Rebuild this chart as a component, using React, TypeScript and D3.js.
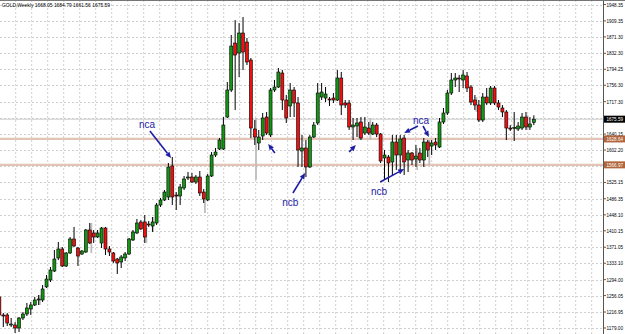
import React from 'react';
import * as d3 from 'd3';

const W = 625;
const H = 334;

const opens = [1252.8,1209.9,1209.9,1186.1,1186.1,1179.0,1202.8,1212.3,1224.2,1233.7,1245.6,1245.6,1276.6,1293.2,1314.5,1345.5,1366.9,1326.4,1357.4,1390.7,1369.3,1355.0,1359.7,1412.1,1405.0,1395.4,1381.2,1416.8,1366.9,1357.4,1343.1,1335.9,1345.5,1355.0,1388.3,1405.0,1431.1,1431.1,1426.3,1421.6,1428.7,1471.5,1483.4,1490.5,1564.3,1495.3,1492.9,1511.9,1535.7,1538.1,1526.2,1538.1,1502.4,1483.4,1540.5,1590.4,1604.7,1604.7,1680.7,1745.0,1856.7,1833.0,1880.5,1859.1,1816.3,1652.2,1619.0,1635.6,1680.7,1638.0,1745.0,1752.1,1785.4,1721.2,1707.0,1745.0,1714.1,1599.9,1607.1,1561.9,1633.2,1666.5,1728.3,1725.9,1723.6,1725.9,1721.2,1773.5,1714.1,1714.1,1657.0,1659.4,1668.9,1642.7,1654.6,1640.3,1661.7,1640.3,1583.3,1585.6,1573.8,1621.3,1590.4,1630.8,1578.5,1595.2,1580.9,1595.2,1578.5,1621.3,1611.8,1621.3,1609.4,1668.9,1690.3,1737.8,1768.8,1773.5,1768.8,1778.3,1752.1,1721.2,1709.3,1673.6,1728.3,1714.1,1749.7,1714.1,1702.2,1692.7,1654.6,1654.6,1652.2,1654.6,1680.7,1657.0,1668.05];
const highs = [1255.1,1214.7,1214.7,1202.8,1193.2,1205.1,1217.0,1238.5,1240.8,1252.8,1257.5,1281.3,1305.0,1324.1,1364.5,1383.5,1371.7,1359.7,1395.4,1419.2,1371.7,1364.5,1414.5,1428.7,1412.1,1412.1,1419.2,1419.2,1374.0,1359.7,1345.5,1352.6,1359.7,1393.1,1412.1,1438.2,1435.8,1447.7,1433.5,1443.0,1476.3,1488.2,1507.2,1571.4,1585.6,1502.4,1521.5,1540.5,1550.0,1547.6,1542.9,1552.4,1509.6,1545.2,1597.5,1607.1,1630.8,1680.7,1764.0,1875.8,1911.4,1904.3,1918.6,1868.6,1821.1,1673.6,1649.9,1690.3,1692.7,1749.7,1768.8,1797.3,1792.5,1733.1,1761.6,1752.1,1728.3,1638.0,1626.1,1638.0,1668.9,1761.6,1761.6,1752.1,1728.3,1737.8,1792.5,1787.8,1721.2,1721.2,1678.4,1678.4,1680.7,1680.7,1668.9,1668.9,1666.5,1642.7,1602.3,1590.4,1638.0,1638.0,1638.0,1638.0,1602.3,1597.5,1614.2,1607.1,1630.8,1626.1,1626.1,1630.8,1678.4,1702.2,1745.0,1785.4,1785.4,1780.7,1792.5,1787.8,1756.9,1733.1,1721.2,1737.8,1749.7,1754.5,1754.5,1721.2,1709.3,1697.4,1661.7,1692.7,1668.9,1690.3,1692.7,1680.7,1684.79];
const lows = [1202.8,1181.4,1183.7,1181.4,1167.2,1169.5,1198.0,1207.5,1209.9,1231.3,1233.7,1240.8,1274.2,1288.4,1312.1,1340.7,1324.1,1324.1,1355.0,1371.7,1326.4,1352.6,1357.4,1378.8,1381.2,1393.1,1369.3,1352.6,1350.2,1333.6,1307.4,1321.7,1338.3,1352.6,1385.9,1402.6,1412.1,1381.2,1419.2,1407.4,1424.0,1466.8,1481.0,1483.4,1471.5,1459.6,1471.5,1507.2,1531.0,1523.8,1521.5,1492.9,1476.3,1481.0,1538.1,1585.6,1602.3,1602.3,1678.4,1740.2,1697.4,1775.9,1792.5,1804.4,1630.8,1614.2,1602.3,1626.1,1638.0,1633.2,1740.2,1749.7,1697.4,1666.5,1680.7,1680.7,1561.9,1561.9,1538.1,1559.5,1630.8,1661.7,1721.2,1716.4,1707.0,1714.1,1718.8,1685.5,1702.2,1649.9,1626.1,1633.2,1626.1,1638.0,1638.0,1638.0,1633.2,1571.4,1531.0,1526.2,1542.9,1554.7,1554.7,1542.9,1550.0,1566.6,1561.9,1571.4,1561.9,1585.6,1590.4,1602.3,1607.1,1664.1,1685.5,1733.1,1752.1,1740.2,1749.7,1740.2,1709.3,1697.4,1668.9,1668.9,1709.3,1709.3,1709.3,1697.4,1680.7,1626.1,1647.5,1623.7,1647.5,1649.9,1649.9,1649.9,1661.56];
const closes = [1209.9,1207.5,1190.9,1188.5,1179.0,1202.8,1212.3,1226.6,1233.7,1245.6,1248.0,1271.8,1295.5,1316.9,1343.1,1366.9,1326.4,1357.4,1390.7,1374.0,1350.2,1362.1,1412.1,1381.2,1395.4,1405.0,1416.8,1366.9,1359.7,1338.3,1333.6,1347.9,1355.0,1390.7,1407.4,1428.7,1414.5,1395.4,1424.0,1431.1,1471.5,1483.4,1502.4,1561.9,1490.5,1492.9,1514.3,1533.4,1538.1,1526.2,1538.1,1500.1,1485.8,1540.5,1590.4,1597.5,1626.1,1661.7,1745.0,1849.6,1828.2,1880.5,1835.3,1811.6,1654.6,1633.2,1633.2,1678.4,1642.7,1745.0,1752.1,1787.8,1721.2,1678.4,1745.0,1714.1,1602.3,1607.1,1561.9,1633.2,1661.7,1737.8,1740.2,1735.5,1721.2,1721.2,1773.5,1709.3,1709.3,1657.0,1661.7,1666.5,1630.8,1657.0,1642.7,1661.7,1640.3,1576.1,1590.4,1571.4,1621.3,1590.4,1628.5,1573.8,1595.2,1578.5,1588.0,1578.5,1621.3,1602.3,1619.0,1614.2,1668.9,1690.3,1737.8,1768.8,1773.5,1771.1,1780.7,1749.7,1716.4,1709.3,1673.6,1728.3,1714.1,1749.7,1714.1,1704.5,1692.7,1654.6,1652.2,1655.8,1659.4,1680.7,1657.0,1664.1,1675.59];

const priceTicks = [1948.35,1909.35,1871.30,1832.30,1794.25,1756.30,1717.30,1679.25,1640.15,1602.20,1564.15,1525.15,1486.35,1448.10,1410.15,1371.05,1333.10,1294.00,1256.05,1216.95,1179.00];
const levelPrices = [1628.64, 1566.97];
const lastPrice = 1675.59;
const titleText = 'GOLD,Weekly  1668.05 1684.79 1661.56 1675.59';

const ghostIdx = [10.3, 23.4, 37.4, 39, 52.3, 65.3, 91.5, 94.4, 106.3, 109.4, 121.4, 134.4];
const ghostHigh = [1257.5, 1428.7, 1416.8, 1443.0, 1483.4, 1678.4, 1668.9, 1678.4, 1607.1, 1626.1, 1728.3, 1685.5];
const ghostLow = [1233.7, 1357.4, 1381.2, 1407.4, 1452.5, 1531.0, 1626.1, 1626.1, 1554.7, 1566.6, 1692.7, 1649.9];

const noteText = ['nca', 'nca', 'ncb', 'ncb'];
const noteIdx = [37.6, 107.3, 74, 96.6];
const notePrice = [1664.1, 1673.6, 1476.3, 1504.8];

const arrowTailIdx = [38.3, 70.1, 74.7, 89, 96.9, 106.5, 107.8];
const arrowTailPrice = [1647.5, 1595.2, 1500.1, 1597.5, 1526.2, 1659.4, 1659.4];
const arrowTipIdx = [43.7, 68.4, 77.8, 90.7, 103, 103, 109.3];
const arrowTipPrice = [1583.3, 1616.6, 1547.6, 1614.2, 1557.1, 1642.7, 1633.2];

const AXIS_X = 603;
const BLUE = '#1c1ca6';
const FONT = '"Liberation Sans", Arial, sans-serif';

export default function App() {
  const n = opens.length;
  const x = d3.scaleLinear().domain([0, n - 1]).range([-0.63, -0.63 + 3.93 * (n - 1)]);
  const y = d3.scaleLinear().domain([1179, 1948.35]).range([328, 4.5]);
  const vGrid = d3.range(15.7, AXIS_X, 16);

  const arrows = arrowTailIdx.map((_, k) => {
    const x1 = x(arrowTailIdx[k]);
    const y1 = y(arrowTailPrice[k]);
    const x2 = x(arrowTipIdx[k]);
    const y2 = y(arrowTipPrice[k]);
    const a = Math.atan2(y2 - y1, x2 - x1);
    const hl = 6, hw = 2.6;
    const bx = x2 - hl * Math.cos(a);
    const by = y2 - hl * Math.sin(a);
    const p = [
      [x2, y2],
      [bx + hw * Math.sin(a), by - hw * Math.cos(a)],
      [bx - hw * Math.sin(a), by + hw * Math.cos(a)],
    ];
    return { x1, y1, bx, by, pts: p.map((q) => q.join(',')).join(' ') };
  });

  return (
    <svg
      width={W}
      height={H}
      style={{ position: 'absolute', left: 0, top: 0, background: '#fff', display: 'block' }}
      fontFamily={FONT}
    >
      <rect x={0} y={0} width={W} height={H} fill="#fff" />
      {priceTicks.map((p, k) => (
        <line key={'hg' + k} x1={0} x2={AXIS_X} y1={Math.round(y(p)) + 0.5} y2={Math.round(y(p)) + 0.5}
          stroke="#cfcfcf" strokeWidth={1} strokeDasharray="2,2" />
      ))}
      {vGrid.map((gx, k) => (
        <line key={'vg' + k} x1={gx} x2={gx} y1={0} y2={H} stroke="#cfcfcf" strokeWidth={1} strokeDasharray="2,2" />
      ))}
      {levelPrices.map((p, k) => (
        <line key={'lv' + k} x1={0} x2={AXIS_X} y1={y(p)} y2={y(p)} stroke="#e2c3b5" strokeWidth={2.2} />
      ))}
      <line x1={0} x2={AXIS_X} y1={y(lastPrice)} y2={y(lastPrice)} stroke="#cccccc" strokeWidth={1} />
      {ghostIdx.map((gi, k) => (
        <rect key={'gh' + k} x={x(gi) - 0.9} width={1.8} y={y(ghostHigh[k])} height={y(ghostLow[k]) - y(ghostHigh[k])}
          fill="#bdbdbd" />
      ))}
      {opens.map((o, i) => {
        const cx = x(i);
        const c = closes[i];
        const yo = y(o), yc = y(c);
        const top = Math.min(yo, yc);
        const h = Math.max(Math.abs(yo - yc), 0.8);
        const up = c >= o;
        return (
          <g key={'c' + i}>
            <line x1={cx} x2={cx} y1={y(highs[i])} y2={y(lows[i])} stroke="#000" strokeWidth={1} />
            <rect x={cx - 1.5} y={top} width={3} height={h} fill={up ? '#149614' : '#f01010'} stroke="#000" strokeWidth={0.6} />
          </g>
        );
      })}
      {arrows.map((a, k) => (
        <g key={'ar' + k}>
          <line x1={a.x1} y1={a.y1} x2={a.bx} y2={a.by} stroke={BLUE} strokeWidth={1.6} />
          <polygon points={a.pts} fill={BLUE} />
        </g>
      ))}
      {noteText.map((t, k) => (
        <text key={'nt' + k} x={x(noteIdx[k])} y={y(notePrice[k])} fontSize={10} fill={BLUE}
          textAnchor="middle" dominantBaseline="central">{t}</text>
      ))}
      <rect x={AXIS_X + 0.5} y={0} width={W - AXIS_X} height={H} fill="#fff" />
      <line x1={AXIS_X + 0.5} x2={AXIS_X + 0.5} y1={0} y2={H} stroke="#555" strokeWidth={1} />
      <line x1={0} x2={W} y1={0.5} y2={0.5} stroke="#777" strokeWidth={1} />
      {priceTicks.map((p, k) => (
        <g key={'pt' + k}>
          <line x1={AXIS_X} x2={AXIS_X + 3} y1={y(p)} y2={y(p)} stroke="#555" strokeWidth={1} />
          <text x={606.5} y={y(p)} fontSize={5} fill="#000" dominantBaseline="central"
            textLength={16.5} lengthAdjust="spacingAndGlyphs">{p.toFixed(2)}</text>
        </g>
      ))}
      {levelPrices.map((p, k) => (
        <g key={'lb' + k}>
          <rect x={AXIS_X + 1} y={y(p) - 3.5} width={W - AXIS_X - 1} height={7} fill="#b1653c" />
          <text x={606.5} y={y(p)} fontSize={5} fill="#fff" dominantBaseline="central"
            textLength={16.5} lengthAdjust="spacingAndGlyphs">{p.toFixed(2)}</text>
        </g>
      ))}
      <rect x={AXIS_X + 1} y={y(lastPrice) - 3.5} width={W - AXIS_X - 1} height={7} fill="#000" />
      <text x={606.5} y={y(lastPrice)} fontSize={5} fill="#fff" dominantBaseline="central"
        textLength={16.5} lengthAdjust="spacingAndGlyphs">{lastPrice.toFixed(2)}</text>
      <text x={2} y={6.8} fontSize={5.8} fill="#000" textLength={108} lengthAdjust="spacingAndGlyphs">{titleText}</text>
    </svg>
  );
}
